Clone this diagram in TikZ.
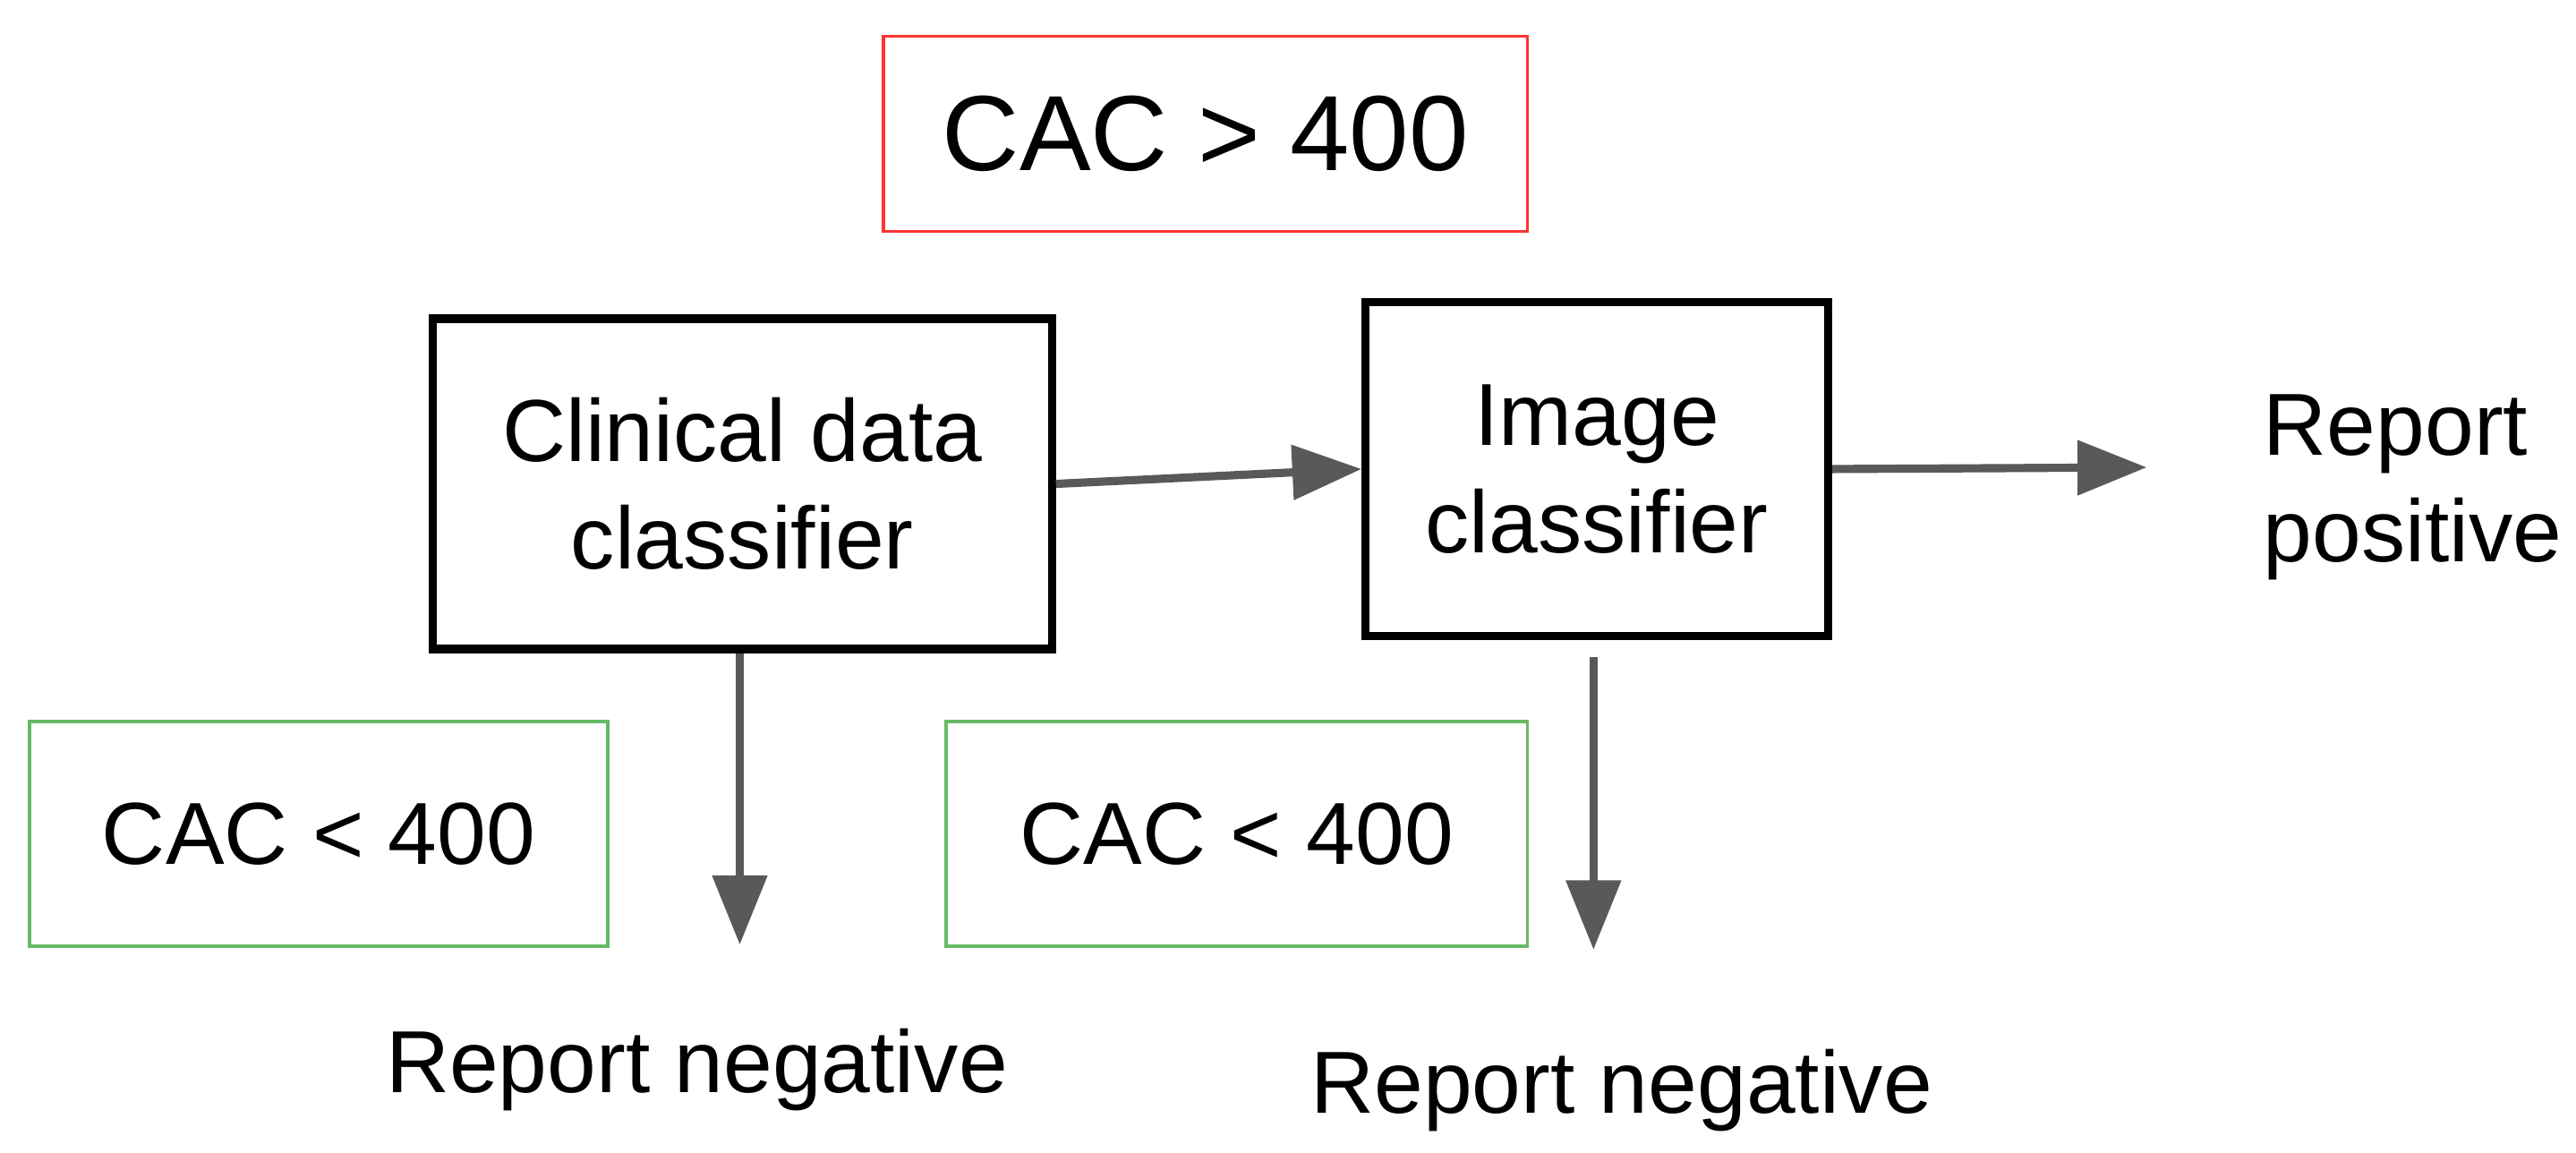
\documentclass[tikz,border=0pt]{standalone}
\usepackage{fontspec}
\setmainfont{Liberation Sans}
\usetikzlibrary{arrows.meta,positioning}

\begin{document}
\begin{tikzpicture}[x=0.01845cm,y=-0.01845cm,
  flow/.style={draw=black!65,line width=2.6pt,-{Triangle[length=22pt,width=17pt]}},
  classbox/.style={draw=black,line width=2.6pt,align=center,font=\fontsize{28}{34}\selectfont},
  condbox/.style={draw,line width=1pt,font=\fontsize{28}{33}\selectfont}]
  \useasboundingbox (0,0) rectangle (1560,698);

  \node[condbox,draw=red!80,font=\fontsize{34}{40}\selectfont,minimum width=390*0.01845cm,minimum height=118*0.01845cm] (high) at (730,81) {CAC > 400};

  \node[classbox,minimum width=375*0.01845cm,minimum height=200*0.01845cm] (clin) at (449.5,293) {Clinical data\\classifier};
  \node[classbox,minimum width=280*0.01845cm,minimum height=202*0.01845cm] (img) at (967,284) {Image\\classifier};

  \node[align=left,font=\fontsize{28}{34}\selectfont,anchor=west] (pos) at (1364,295) {Report\\positive};

  \node[condbox,draw=green!55!black!60,minimum width=350*0.01845cm,minimum height=136*0.01845cm] (low1) at (193,505) {CAC < 400};
  \node[condbox,draw=green!55!black!60,minimum width=352*0.01845cm,minimum height=136*0.01845cm] (low2) at (749,505) {CAC < 400};

  \node[font=\fontsize{28}{33}\selectfont] (neg1) at (422,648) {Report negative};
  \node[font=\fontsize{28}{33}\selectfont] (neg2) at (982,660) {Report negative};

  \coordinate (end1) at (448,572);
  \coordinate (end2) at (965,575);
  \coordinate (end3) at (1300,283);

  \draw[flow] (clin.east) -- (img.west);
  \draw[flow] (img.east) -- (end3);
  \draw[flow] (clin.south -| end1) -- (end1);
  \draw[flow] (965,398) -- (end2);
\end{tikzpicture}
\end{document}
